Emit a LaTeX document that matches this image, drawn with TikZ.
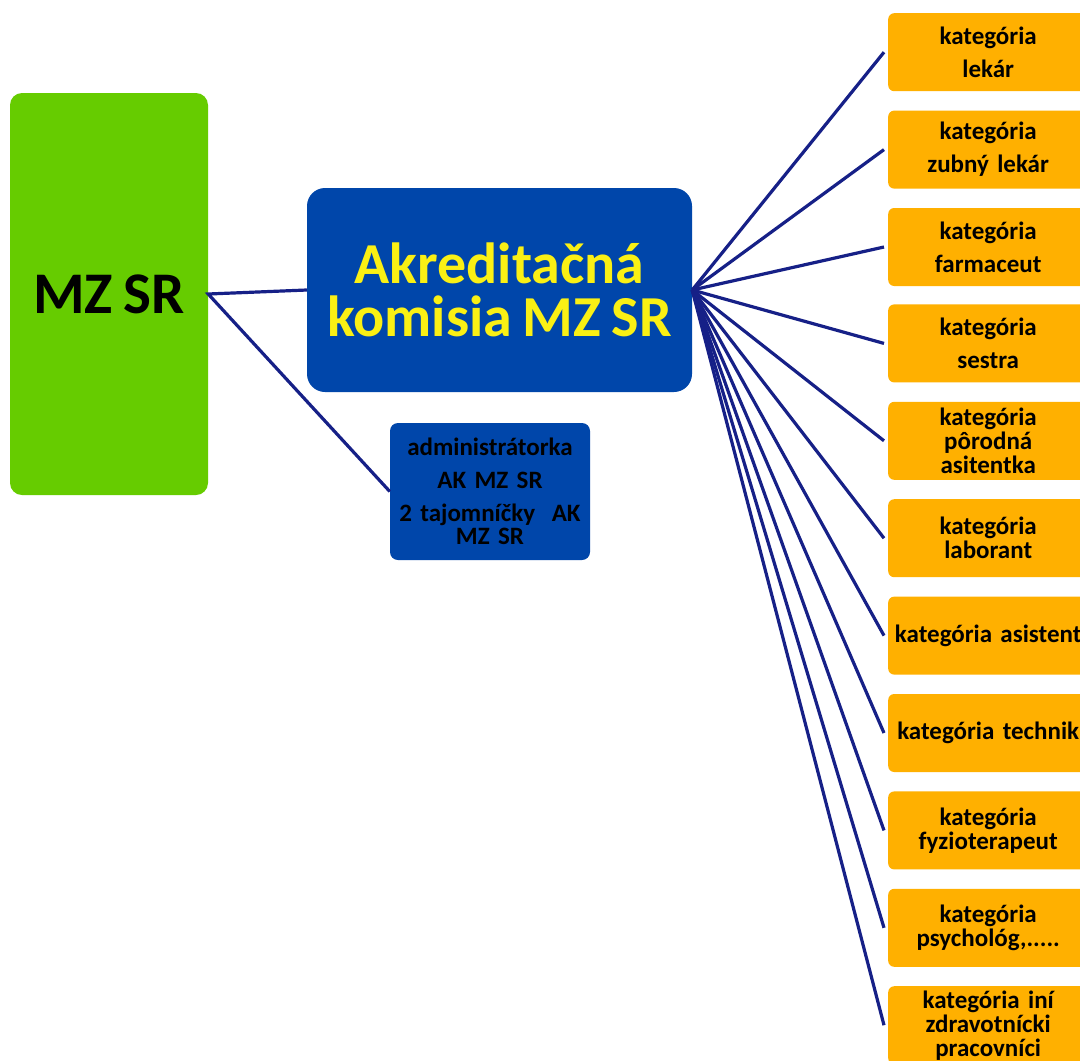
\documentclass[tikz,border=0pt]{standalone}
\usepackage{fontspec}
\setmainfont{Carlito}[WordSpace=0.8]
\usetikzlibrary{positioning}

\definecolor{mzgreen}{RGB}{102,204,0}
\definecolor{akblue}{RGB}{0,70,170}
\definecolor{katorange}{RGB}{255,176,0}
\definecolor{linknavy}{RGB}{22,32,135}
\definecolor{akyellow}{RGB}{250,240,20}

\begin{document}
\begin{tikzpicture}[
    x=1pt, y=-1pt,
    node distance=19pt,
    ministry/.style={rectangle, rounded corners=12pt, fill=mzgreen, minimum width=198pt, minimum height=402pt, font=\fontsize{59}{60}\selectfont\bfseries},
    commission/.style={rectangle, rounded corners=18pt, fill=akblue, minimum width=385pt, minimum height=204pt, align=center, text=akyellow, font=\fontsize{58}{53}\selectfont\bfseries},
    admin/.style={rectangle, rounded corners=8pt, fill=akblue, minimum width=200pt, minimum height=137pt, text width=200pt, inner xsep=0pt, align=center, font=\fontsize{25}{23}\selectfont\bfseries},
    category/.style={rectangle, rounded corners=6pt, fill=katorange, minimum width=200pt, minimum height=78pt, text width=190pt, inner xsep=0pt, align=center, font=\fontsize{25}{24}\selectfont\bfseries},
    link/.style={draw=linknavy, line width=3.2pt}
]

\clip (0,0) rectangle (1080,1061);
\fill[white] (0,0) rectangle (1080,1061);

% ministerstvo
\node[ministry] (mz) at (109,294) {MZ SR};

% komisia
\node[commission] (akk) at (499.5,290) {Akreditačná\\komisia MZ SR};
\node[admin] (adm) at (490,491.5) {administrátorka\\[10pt] AK MZ SR\\[10pt] 2 tajomníčky~ AK\\ MZ SR};

% kategórie
\node[category, anchor=north west] (lekar) at (888,13) {kategória\\[9pt] lekár};
\node[category, below=19pt of lekar] (zubny) {kategória\\[9pt] zubný lekár};
\node[category, below=19pt of zubny] (farm) {kategória\\[9pt] farmaceut};
\node[category, below=18pt of farm] (sestra) {kategória\\[9pt] sestra};
\node[category, below=19pt of sestra] (porod) {kategória\\ pôrodná\\ asitentka};
\node[category, below=19pt of porod] (labor) {kategória\\ laborant};
\node[category, below=19pt of labor] (asist) {kategória asistent};
\node[category, below=19pt of asist] (techn) {kategória technik};
\node[category, below=19pt of techn] (fyzio) {kategória\\ fyzioterapeut};
\node[category, below=19pt of fyzio] (psych) {kategória\\ psychológ,.....};
\node[category, below=19pt of psych] (ini) {kategória iní\\ zdravotnícki\\ pracovníci};

% spojnice
\draw[link] (akk.west) -- (mz.east) -- (adm.west);
\foreach \k in {lekar,zubny,farm,sestra,porod,labor,asist,techn,fyzio,psych,ini}
    \draw[link] (akk.east) -- ([xshift=-4pt]\k.west);

\end{tikzpicture}
\end{document}
